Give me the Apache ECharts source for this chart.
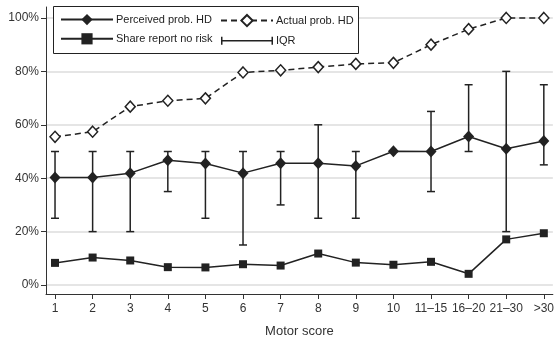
<!DOCTYPE html>
<html>
<head>
<meta charset="utf-8">
<script src="https://cdn.jsdelivr.net/npm/echarts@6/dist/echarts.min.js"></script>
<style>html,body{margin:0;padding:0;background:#fff}#c{width:557px;height:343px}</style>
</head>
<body>
<div id="c"></div>
<script>
const categories = ['1','2','3','4','5','6','7','8','9','10','11\u201315','16\u201320','21\u201330','>30'];
const perceived = [40.3, 40.3, 41.9, 46.7, 45.5, 41.9, 45.6, 45.6, 44.6, 50.1, 50.0, 55.6, 51.0, 53.9];
const actual = [55.5, 57.4, 66.8, 69.0, 69.9, 79.6, 80.4, 81.6, 82.8, 83.2, 90.0, 95.8, 100, 100];
const shareNoRisk = [8.3, 10.3, 9.2, 6.7, 6.6, 7.8, 7.3, 11.8, 8.4, 7.6, 8.7, 4.2, 17.1, 19.4];
const iqrLow = [25, 20, 20, 35, 25, 15, 30, 25, 25, 50, 35, 50, 20, 45];
const iqrHigh = [50, 50, 50, 50, 50, 50, 50, 60, 50, 50, 65, 75, 80, 75];
const yTicks = [0, 20, 40, 60, 80, 100];

const idx = categories.map((_, i) => i);
const ink = '#222';
const font = 'Liberation Sans, Arial, Helvetica, sans-serif';

const chart = echarts.init(document.getElementById('c'));
chart.setOption({
  animation: false,
  backgroundColor: '#fff',
  grid: { left: 46, right: 1, top: 7, bottom: 47, containLabel: false },
  xAxis: {
    type: 'value', min: -0.24, max: 13.24,
    name: 'Motor score', nameLocation: 'middle', nameGap: 31,
    nameTextStyle: { fontFamily: font, fontSize: 13, color: '#333' },
    axisLine: { onZero: false, lineStyle: { color: '#333', width: 1 } },
    axisTick: { customValues: idx, length: 5, lineStyle: { color: '#333' } },
    axisLabel: { customValues: idx, formatter: v => categories[Math.round(v)], fontFamily: font, fontSize: 12, color: '#333', margin: 9 },
    splitLine: { show: false }
  },
  yAxis: {
    type: 'value', min: -3.35, max: 104.1,
    axisLine: { show: true, onZero: false, lineStyle: { color: '#333', width: 1 } },
    axisTick: { show: true, customValues: yTicks, length: 5, lineStyle: { color: '#333' } },
    axisLabel: { customValues: yTicks, formatter: v => Math.round(v) + '%', fontFamily: font, fontSize: 12, color: '#333', margin: 7 },
    splitLine: { show: false }
  },
  graphic: [{
    type: 'rect', left: 53, top: 6, z: 10,
    shape: { width: 305, height: 47 },
    style: { fill: '#fff', stroke: ink, lineWidth: 1 }
  }],
  legend: [{
    left: 60, top: 14, padding: 0, orient: 'vertical', itemWidth: 52, itemHeight: 14, itemGap: 8, z: 20,
    textStyle: { fontFamily: font, fontSize: 11, color: ink, padding: [0,0,0,-2] },
    data: ['Perceived prob. HD', 'Share report no risk']
  }, {
    left: 220, top: 14, padding: 0, orient: 'vertical', itemWidth: 52, itemHeight: 14, itemGap: 8, z: 20,
    textStyle: { fontFamily: font, fontSize: 11, color: ink, padding: [0,0,0,-2] },
    data: ['Actual prob. HD', { name: 'IQR', icon: 'path://M0,0h1.5v3.25h49V0h1.5v8h-1.5V4.75h-49V8H0Z' }]
  }],
  series: [{
    name: 'gridlines', type: 'line', data: [], z: 0, silent: true,
    markLine: {
      z: 0, silent: true, symbol: ['none', 'none'], label: { show: false }, animation: false,
      lineStyle: { color: '#dcdcdc', width: 1.5, type: 'solid' },
      data: yTicks.map(v => ({ yAxis: v }))
    }
  }, {
    name: 'IQR', type: 'custom', z: 2,
    itemStyle: { color: ink },
    data: idx.map(i => [i, iqrLow[i], iqrHigh[i]]),
    renderItem: function (params, api) {
      const i = api.value(0);
      const lo = api.coord([i, api.value(1)]);
      const hi = api.coord([i, api.value(2)]);
      const w = 4;
      const st = { stroke: ink, lineWidth: 1.5 };
      return { type: 'group', children: [
        { type: 'line', shape: { x1: lo[0], y1: lo[1], x2: hi[0], y2: hi[1] }, style: st },
        { type: 'line', shape: { x1: lo[0]-w, y1: lo[1], x2: lo[0]+w, y2: lo[1] }, style: st },
        { type: 'line', shape: { x1: hi[0]-w, y1: hi[1], x2: hi[0]+w, y2: hi[1] }, style: st }
      ]};
    }
  }, {
    name: 'Actual prob. HD', type: 'line', z: 3,
    data: idx.map(i => [i, actual[i]]),
    symbol: 'diamond', symbolSize: [10, 11], showAllSymbol: true,
    lineStyle: { color: ink, width: 1.5, type: [6, 4] },
    itemStyle: { color: '#fff', borderColor: ink, borderWidth: 1.5 }
  }, {
    name: 'Perceived prob. HD', type: 'line', z: 4,
    data: idx.map(i => [i, perceived[i]]),
    symbol: 'diamond', symbolSize: [11, 12], showAllSymbol: true,
    lineStyle: { color: ink, width: 1.5 },
    itemStyle: { color: ink }
  }, {
    name: 'Share report no risk', type: 'line', z: 4,
    data: idx.map(i => [i, shareNoRisk[i]]),
    symbol: 'rect', symbolSize: 8, showAllSymbol: true,
    lineStyle: { color: ink, width: 1.5 },
    itemStyle: { color: ink }
  }]
});
</script>
</body>
</html>
